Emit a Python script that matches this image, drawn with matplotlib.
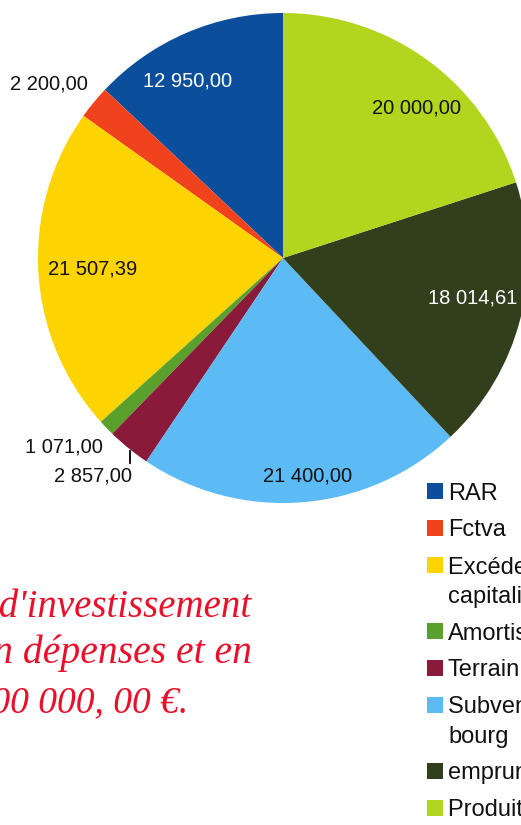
import numpy as np
import matplotlib
matplotlib.use("Agg")
import matplotlib.pyplot as plt
from matplotlib.patches import Rectangle

# données du graphique (section d'investissement)
categories = ["RAR", "Fctva", "Excédent de fonctionnement\ncapitalisé", "Amortissements", "Terrain",
              "Subventions aménagement\nbourg", "emprunt", "Produits de cession"]
values = [12950.00, 2200.00, 21507.39, 1071.00, 2857.00, 21400.00, 18014.61, 20000.00]
value_labels = ["12 950,00", "2 200,00", "21 507,39", "1 071,00", "2 857,00",
                "21 400,00", "18 014,61", "20 000,00"]
colors = ["#0b4f9c", "#f0421c", "#fdd300", "#5aa02c", "#8a1a3a",
          "#5cbaf5", "#323f1c", "#b2d61e"]
note_lines = ["La section d'investissement", "s'équilibre en dépenses et en",
              "recettes à 100 000, 00 €."]

W, H = 521, 825
fig = plt.figure(figsize=(W / 100, H / 100), dpi=100)
ax = fig.add_axes([0, 0, 1, 1])

cx, cy, R = 283, H - 258, 245
wedges, _ = ax.pie(values, colors=colors, startangle=90, counterclock=True,
                   center=(cx, cy), radius=R, wedgeprops=dict(linewidth=0))
ax.set_xlim(0, W)
ax.set_ylim(0, H)
ax.set_aspect("equal")
ax.axis("off")

# étiquettes intérieures : (ratio du rayon, décalage angulaire)
inside = {0: (0.82, 5.2), 2: (0.78, 0.0), 5: (0.895, 1.8), 6: (0.79, 2.6), 7: (0.82, -5.8)}
# étiquettes extérieures : décalage en px depuis le bord de la part
outside = {1: (-6, 18), 3: (-4, -19), 4: (3, -28)}
white = {0, 6}
lbl_font = dict(fontsize=14.5, family="Liberation Sans")
for i, w in enumerate(wedges):
    mid = (w.theta1 + w.theta2) / 2
    if i in inside:
        k, da = inside[i]
        a = np.deg2rad(mid + da)
        ax.text(cx + k * R * np.cos(a), cy + k * R * np.sin(a), value_labels[i],
                ha="center", va="center",
                color="white" if i in white else "#111111", **lbl_font)
    else:
        a = np.deg2rad(mid)
        ex, ey = cx + R * np.cos(a), cy + R * np.sin(a)
        dx, dy = outside[i]
        if i == 4:
            ax.plot([ex + 1, ex + 1], [ey - 3, ey - 15], color="black", lw=1.3)
        ax.text(ex + dx, ey + dy, value_labels[i], ha="right", va="center",
                color="#111111", **lbl_font)

# légende (coupée à droite comme sur l'original)
y = 491
for name, c in zip(categories, colors):
    ax.add_patch(Rectangle((427, H - y - 8), 16, 16, color=c, lw=0))
    for j, line in enumerate(name.split("\n")):
        ax.text(448, H - y - 8.5 - 29 * j, line, ha="left", va="baseline",
                color="#111111", fontsize=17, family="Liberation Sans")
    y += 37 + 29 * name.count("\n")

# texte manuscrit en rouge (coupé à gauche)
note_x = [252, 252, 188]
note_y = [617, 663, 712]
note_size = [28, 28.5, 27]
for s, x, yy, fs in zip(note_lines, note_x, note_y, note_size):
    ax.text(x, H - yy, s, ha="right", va="baseline", color="#e8102a",
            fontsize=fs, family="Liberation Serif", style="italic")

fig.savefig("out.png", dpi=100)
